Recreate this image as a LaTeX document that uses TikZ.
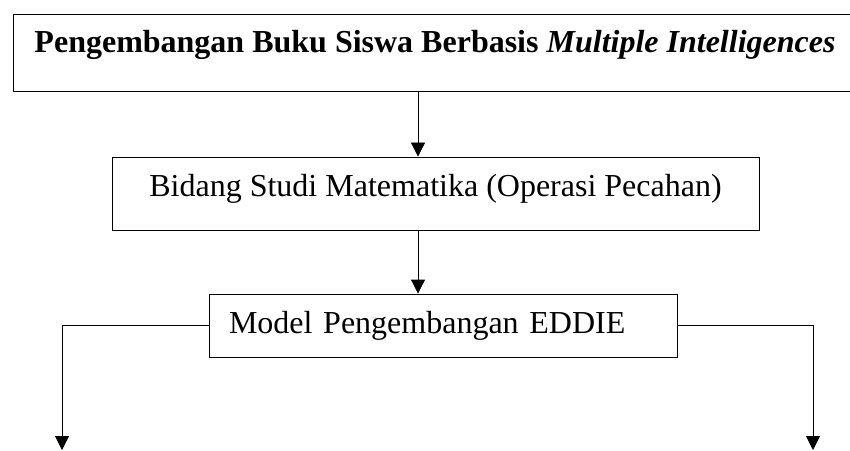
\documentclass[tikz,border=0pt]{standalone}
\usepackage{fontspec}
\setmainfont{Liberation Serif}
\usetikzlibrary{positioning,arrows.meta}

\begin{document}
\begin{tikzpicture}[x=1pt, y=1pt,
        kotak/.style={draw, line width=0.8pt, inner ysep=0pt,
            font=\fontsize{32}{38}\selectfont},
        panah/.style={line width=0.8pt, -{Triangle[width=14pt,length=14pt]}}]
                \useasboundingbox (0,0) rectangle (850,450);

                \node[kotak, minimum width=844pt, text height=39pt, text depth=38pt] (buku) at (435,397.5)
                    {\textbf{Pengembangan Buku Siswa Berbasis \textit{Multiple Intelligences}}};
                \node[kotak, minimum width=647pt, text height=40pt, text depth=33pt] (bidang) at (435.5,256.5)
                    {Bidang Studi Matematika (Operasi Pecahan)};
                \node[kotak, inner xsep=20pt, text width=428pt, align=left, text height=39pt, text depth=24pt] (model) at (443,124.5)
                    {Model Pengembangan EDDIE};

                \coordinate (kiri) at (62,0);
                \coordinate (kanan) at (813,0);

                \path[panah]
                    (buku.south -| 418,0) edge (bidang.north -| 418,0)
                    (bidang.south -| 418,0) edge (model.north -| 418,0);
                \draw[panah] (model.west) -| (kiri);
                \draw[panah] (model.east) -| (kanan);
            \end{tikzpicture}
\end{document}
